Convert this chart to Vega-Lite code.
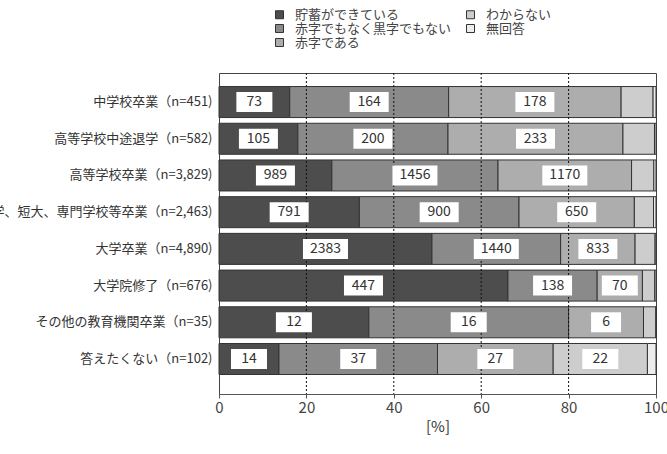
{
  "$schema": "https://vega.github.io/schema/vega-lite/v6.json",
  "width": 437,
  "height": 321,
  "autosize": {"type": "none"},
  "padding": {"left": 219, "top": 73, "right": 11, "bottom": 60},
  "background": "white",
  "data": {
    "values": [
      {"cat": "中学校卒業（n=451)", "code": 1, "status": "貯蓄ができている", "count": 73},
      {"cat": "中学校卒業（n=451)", "code": 2, "status": "赤字でもなく黒字でもない", "count": 164},
      {"cat": "中学校卒業（n=451)", "code": 3, "status": "赤字である", "count": 178},
      {"cat": "中学校卒業（n=451)", "code": 4, "status": "わからない", "count": 33},
      {"cat": "中学校卒業（n=451)", "code": 5, "status": "無回答", "count": 3},
      {"cat": "高等学校中途退学（n=582)", "code": 1, "status": "貯蓄ができている", "count": 105},
      {"cat": "高等学校中途退学（n=582)", "code": 2, "status": "赤字でもなく黒字でもない", "count": 200},
      {"cat": "高等学校中途退学（n=582)", "code": 3, "status": "赤字である", "count": 233},
      {"cat": "高等学校中途退学（n=582)", "code": 4, "status": "わからない", "count": 42},
      {"cat": "高等学校中途退学（n=582)", "code": 5, "status": "無回答", "count": 2},
      {"cat": "高等学校卒業（n=3,829)", "code": 1, "status": "貯蓄ができている", "count": 989},
      {"cat": "高等学校卒業（n=3,829)", "code": 2, "status": "赤字でもなく黒字でもない", "count": 1456},
      {"cat": "高等学校卒業（n=3,829)", "code": 3, "status": "赤字である", "count": 1170},
      {"cat": "高等学校卒業（n=3,829)", "code": 4, "status": "わからない", "count": 195},
      {"cat": "高等学校卒業（n=3,829)", "code": 5, "status": "無回答", "count": 19},
      {"cat": "大学、短大、専門学校等卒業（n=2,463)", "code": 1, "status": "貯蓄ができている", "count": 791},
      {"cat": "大学、短大、専門学校等卒業（n=2,463)", "code": 2, "status": "赤字でもなく黒字でもない", "count": 900},
      {"cat": "大学、短大、専門学校等卒業（n=2,463)", "code": 3, "status": "赤字である", "count": 650},
      {"cat": "大学、短大、専門学校等卒業（n=2,463)", "code": 4, "status": "わからない", "count": 108},
      {"cat": "大学、短大、専門学校等卒業（n=2,463)", "code": 5, "status": "無回答", "count": 14},
      {"cat": "大学卒業（n=4,890)", "code": 1, "status": "貯蓄ができている", "count": 2383},
      {"cat": "大学卒業（n=4,890)", "code": 2, "status": "赤字でもなく黒字でもない", "count": 1440},
      {"cat": "大学卒業（n=4,890)", "code": 3, "status": "赤字である", "count": 833},
      {"cat": "大学卒業（n=4,890)", "code": 4, "status": "わからない", "count": 224},
      {"cat": "大学卒業（n=4,890)", "code": 5, "status": "無回答", "count": 10},
      {"cat": "大学院修了（n=676)", "code": 1, "status": "貯蓄ができている", "count": 447},
      {"cat": "大学院修了（n=676)", "code": 2, "status": "赤字でもなく黒字でもない", "count": 138},
      {"cat": "大学院修了（n=676)", "code": 3, "status": "赤字である", "count": 70},
      {"cat": "大学院修了（n=676)", "code": 4, "status": "わからない", "count": 19},
      {"cat": "大学院修了（n=676)", "code": 5, "status": "無回答", "count": 2},
      {"cat": "その他の教育機関卒業（n=35)", "code": 1, "status": "貯蓄ができている", "count": 12},
      {"cat": "その他の教育機関卒業（n=35)", "code": 2, "status": "赤字でもなく黒字でもない", "count": 16},
      {"cat": "その他の教育機関卒業（n=35)", "code": 3, "status": "赤字である", "count": 6},
      {"cat": "その他の教育機関卒業（n=35)", "code": 4, "status": "わからない", "count": 1},
      {"cat": "その他の教育機関卒業（n=35)", "code": 5, "status": "無回答", "count": 0},
      {"cat": "答えたくない（n=102)", "code": 1, "status": "貯蓄ができている", "count": 14},
      {"cat": "答えたくない（n=102)", "code": 2, "status": "赤字でもなく黒字でもない", "count": 37},
      {"cat": "答えたくない（n=102)", "code": 3, "status": "赤字である", "count": 27},
      {"cat": "答えたくない（n=102)", "code": 4, "status": "わからない", "count": 22},
      {"cat": "答えたくない（n=102)", "code": 5, "status": "無回答", "count": 2}
    ]
  },
  "transform": [
    {"joinaggregate": [{"op": "sum", "field": "count", "as": "total"}], "groupby": ["cat"]}
  ],
  "layer": [
    {
      "mark": {"type": "bar", "stroke": "#333", "strokeWidth": 1},
      "encoding": {
        "y": {
          "field": "cat",
          "type": "nominal",
          "sort": null,
          "scale": {"paddingInner": 0.155, "paddingOuter": 0.45, "align": 0.41},
          "axis": {"title": null, "ticks": false, "domain": false, "labelFontSize": 13, "labelColor": "#333", "labelPadding": 7, "labelLimit": 400}
        },
        "order": {"field": "code", "type": "quantitative", "sort": "ascending"},
        "x": {
          "field": "count",
          "type": "quantitative",
          "stack": "normalize",
          "scale": {"domain": [0, 1], "nice": false},
          "axis": {
            "title": "[%]",
            "values": [0, 0.2, 0.4, 0.6, 0.8, 1],
            "labelExpr": "format(datum.value*100, '.0f')",
            "labelFlush": false,
            "grid": false,
            "domainColor": "#555",
            "tickColor": "#555",
            "tickSize": 4,
            "labelFontSize": 15,
            "labelColor": "#444",
            "labelPadding": 2,
            "titleFontSize": 15,
            "titleFontWeight": "normal",
            "titleColor": "#333",
            "titlePadding": 4
          }
        },
        "color": {
          "field": "status",
          "type": "nominal",
          "scale": {
            "domain": ["貯蓄ができている", "赤字でもなく黒字でもない", "赤字である", "わからない", "無回答"],
            "range": ["#4d4d4d", "#8a8a8a", "#adadad", "#cdcdcd", "#ececec"]
          }
        }
      }
    },
    {
      "data": {"values": [{}]},
      "mark": {"type": "rule", "color": "#111", "strokeDash": [2, 2], "strokeWidth": 1},
      "encoding": {"x": {"datum": 0.2, "type": "quantitative"}}
    },
    {
      "data": {"values": [{}]},
      "mark": {"type": "rule", "color": "#111", "strokeDash": [2, 2], "strokeWidth": 1},
      "encoding": {"x": {"datum": 0.4, "type": "quantitative"}}
    },
    {
      "data": {"values": [{}]},
      "mark": {"type": "rule", "color": "#111", "strokeDash": [2, 2], "strokeWidth": 1},
      "encoding": {"x": {"datum": 0.6, "type": "quantitative"}}
    },
    {
      "data": {"values": [{}]},
      "mark": {"type": "rule", "color": "#111", "strokeDash": [2, 2], "strokeWidth": 1},
      "encoding": {"x": {"datum": 0.8, "type": "quantitative"}}
    },
    {
      "mark": {"type": "point", "filled": true, "size": 4, "fill": "white", "strokeWidth": 0},
      "encoding": {
        "y": {"field": "cat", "type": "nominal", "sort": null},
        "order": {"field": "code", "type": "quantitative", "sort": "ascending"},
        "x": {"field": "count", "type": "quantitative", "stack": "normalize", "bandPosition": 0.5},
        "detail": {"field": "status", "type": "nominal"},
        "opacity": {"condition": {"test": "datum.count / datum.total >= 0.1", "value": 1}, "value": 0},
        "shape": {
          "condition": [
            {"test": "datum.count >= 1000", "value": "M-22.5,-10H22.5V10H-22.5Z"},
            {"test": "datum.count >= 100", "value": "M-19.5,-10H19.5V10H-19.5Z"},
            {"test": "datum.count >= 10", "value": "M-18,-10H18V10H-18Z"}
          ],
          "value": "M-15,-10H15V10H-15Z"
        }
      }
    },
    {
      "mark": {"type": "text", "fontSize": 14, "baseline": "middle", "align": "center", "fill": "#333"},
      "encoding": {
        "y": {"field": "cat", "type": "nominal", "sort": null},
        "order": {"field": "code", "type": "quantitative", "sort": "ascending"},
        "x": {"field": "count", "type": "quantitative", "stack": "normalize", "bandPosition": 0.5},
        "detail": {"field": "status", "type": "nominal"},
        "text": {"condition": {"test": "datum.count / datum.total >= 0.1", "field": "count", "type": "quantitative"}, "value": ""}
      }
    }
  ],
  "config": {
    "font": "Noto Sans CJK JP",
    "view": {"stroke": "#444", "strokeWidth": 1},
    "axis": {"titleColor": "#333", "labelColor": "#444"},
    "legend": {
      "orient": "none",
      "legendX": 54,
      "legendY": -65,
      "columns": 2,
      "title": null,
      "padding": 0,
      "symbolType": "square",
      "symbolSize": 64,
      "symbolStrokeColor": "#333",
      "symbolStrokeWidth": 1,
      "symbolOpacity": 1,
      "labelFontSize": 13,
      "labelColor": "#444",
      "labelOffset": 9,
      "rowPadding": 0,
      "columnPadding": 12,
      "values": ["貯蓄ができている", "わからない", "赤字でもなく黒字でもない", "無回答", "赤字である"]
    }
  }
}
